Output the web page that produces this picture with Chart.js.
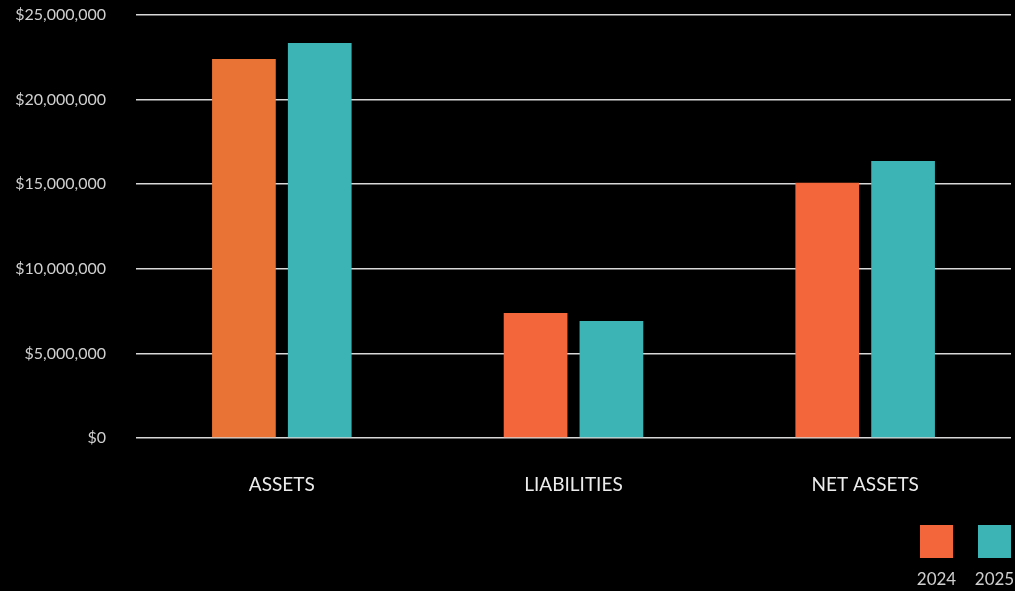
<!DOCTYPE html>
<html>
<head>
<meta charset="utf-8">
<script src="https://cdn.jsdelivr.net/npm/chart.js@4/dist/chart.umd.min.js"></script>
<style>
  html, body { margin: 0; padding: 0; background: #000; }
  #wrap { width: 1015px; height: 591px; }
</style>
</head>
<body>
<div id="wrap"><canvas id="grafico" width="1015" height="591"></canvas></div>
<script>
const categorias = ["ASSETS", "LIABILITIES", "NET ASSETS"];
const anos = ["2024", "2025"];
const valores2024 = [22400000, 7390000, 15080000];
const valores2025 = [23350000, 6910000, 16370000];
const ticksY = [0, 5000000, 10000000, 15000000, 20000000, 25000000];

const cores2024 = ["#e97334", "#f3663b", "#f3663b"];
const cor2025 = "#3cb3b5";

// legenda desenhada à mão: quadrado em cima, ano embaixo
const legendaQuadrados = {
  id: "legendaQuadrados",
  afterDraw(chart) {
    const ctx = chart.ctx;
    const lado = 33;
    const passo = 58;
    const sets = chart.data.datasets;
    let x = chart.width - 4 - lado - passo * (sets.length - 1);
    ctx.save();
    sets.forEach((ds) => {
      ctx.fillStyle = ds.legendColor || ds.backgroundColor;
      ctx.fillRect(x, 525, lado, lado);
      ctx.fillStyle = "#cfcfcf";
      ctx.font = "17px Lato";
      ctx.textAlign = "center";
      ctx.textBaseline = "top";
      ctx.fillText(ds.label, x + lado / 2, 571);
      x += passo;
    });
    ctx.restore();
  }
};

new Chart(document.getElementById("grafico").getContext("2d"), {
  type: "bar",
  data: {
    labels: categorias,
    datasets: [
      { label: anos[0], data: valores2024, backgroundColor: cores2024, legendColor: "#f3663b" },
      { label: anos[1], data: valores2025, backgroundColor: cor2025 }
    ]
  },
  options: {
    responsive: false,
    animation: false,
    devicePixelRatio: 1,
    categoryPercentage: 0.52,
    barPercentage: 0.84,
    layout: {
      padding: { left: 16, right: 4, top: 15, bottom: 83 }
    },
    plugins: {
      legend: { display: false },
      tooltip: { enabled: false }
    },
    scales: {
      x: {
        grid: { display: false },
        border: { display: false },
        afterFit: (s) => { s.height = 70; },
        ticks: {
          color: "#ececec",
          padding: 27,
          font: { family: "Lato", size: 19 }
        }
      },
      y: {
        min: 0,
        max: 25000000,
        afterBuildTicks: (axis) => { axis.ticks = ticksY.map(v => ({ value: v })); },
        afterFit: (s) => { s.width = 120; s.paddingTop = 0; s.paddingBottom = 0; },
        grid: { color: "#d8d8d8", lineWidth: 1.5, drawTicks: false },
        border: { display: false },
        ticks: {
          color: "#d0d0d0",
          padding: 30,
          font: { family: "Lato", size: 16 },
          callback: (v) => "$" + Number(v).toLocaleString("en-US")
        }
      }
    }
  },
  plugins: [legendaQuadrados]
});
</script>
</body>
</html>
